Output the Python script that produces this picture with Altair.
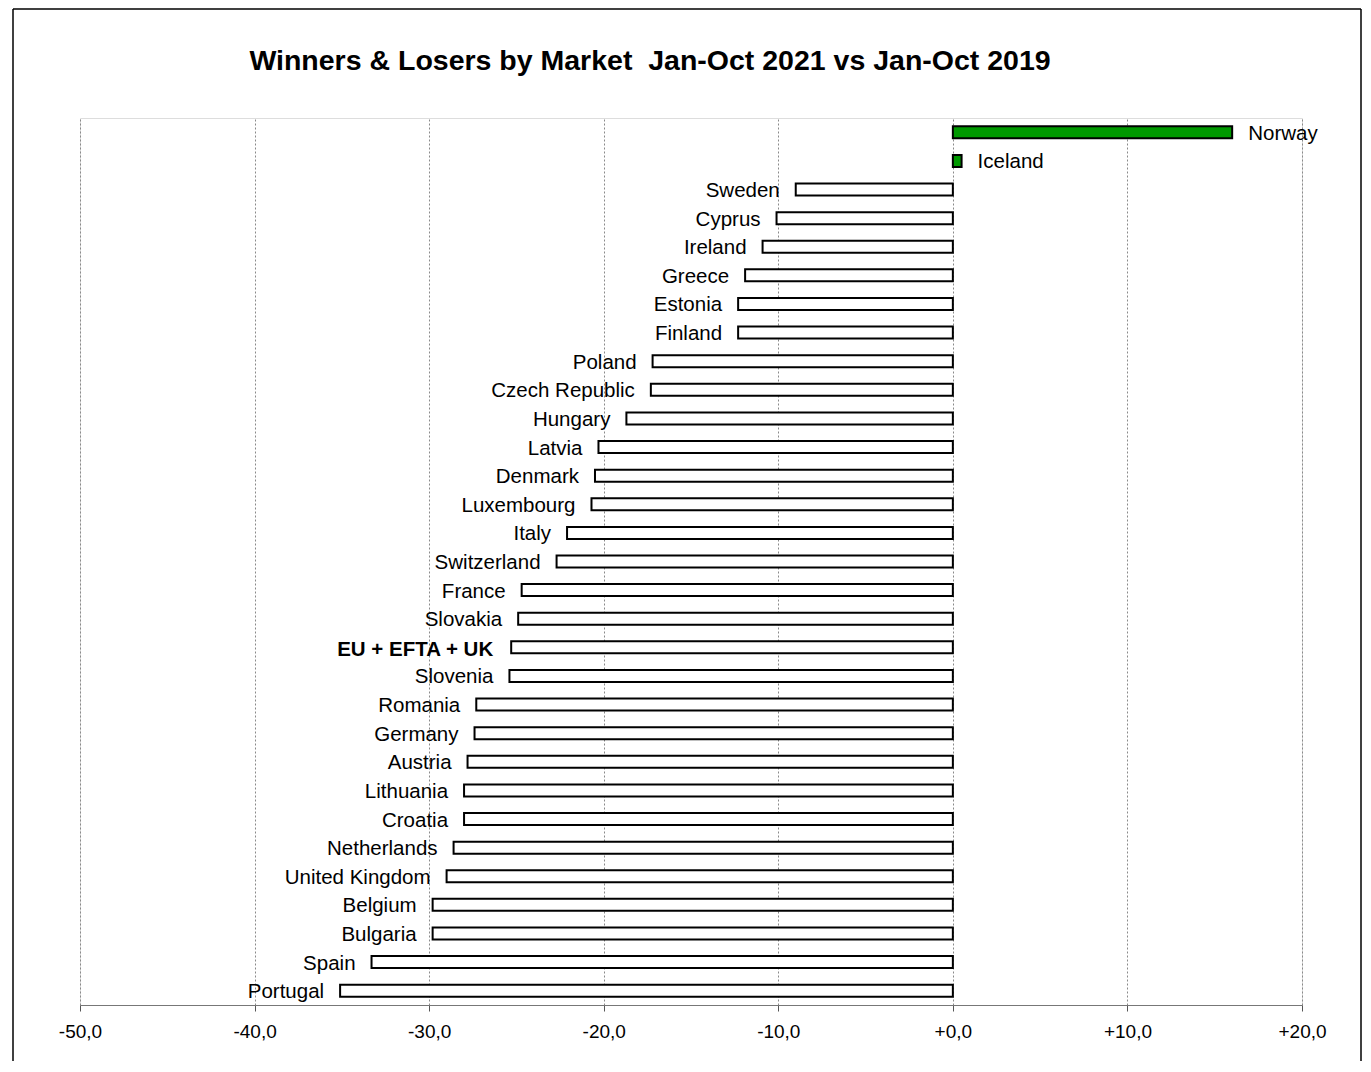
import altair as alt
import pandas as pd

markets = ["Norway", "Iceland", "Sweden", "Cyprus", "Ireland", "Greece", "Estonia", "Finland",
           "Poland", "Czech Republic", "Hungary", "Latvia", "Denmark", "Luxembourg", "Italy",
           "Switzerland", "France", "Slovakia", "EU + EFTA + UK", "Slovenia", "Romania", "Germany",
           "Austria", "Lithuania", "Croatia", "Netherlands", "United Kingdom", "Belgium",
           "Bulgaria", "Spain", "Portugal"]
changes = [16.0, 0.5, -9.0, -10.1, -10.9, -11.9, -12.3, -12.3,
           -17.2, -17.3, -18.7, -20.3, -20.5, -20.7, -22.1,
           -22.7, -24.7, -24.9, -25.3, -25.4, -27.3, -27.4,
           -27.8, -28.0, -28.0, -28.6, -29.0, -29.8,
           -29.8, -33.3, -35.1]
total_label = "EU + EFTA + UK"
title_text = "Winners & Losers by Market \u00a0Jan-Oct 2021 vs Jan-Oct 2019"

df = pd.DataFrame({"market": markets, "change": changes})
df["side"] = ["pos" if v > 0 else "neg" for v in changes]
df["is_total"] = [m == total_label for m in markets]

W, H = 1222, 887
FONT = "Liberation Sans"

x_enc = alt.X("change:Q", scale=alt.Scale(domain=[-50, 20], nice=False, zero=False),
              axis=alt.Axis(values=[-50, -40, -30, -20, -10, 0, 10, 20],
                            labelExpr="(datum.value >= 0 ? '+' : '-') + replace(format(abs(datum.value), '.1f'), '.', ',')",
                            title=None, grid=True, gridColor="#8a8a8a", gridDash=[2, 2], gridWidth=1,
                            domainColor="#777777", domainWidth=1, tickColor="#555555", tickSize=6,
                            labelFlush=False, labelOverlap=False,
                            labelFont=FONT, labelFontSize=19, labelColor="#000000", labelPadding=11))
y_enc = alt.Y("market:N", sort=markets, axis=None,
              scale=alt.Scale(paddingInner=0, paddingOuter=0))

base = alt.Chart(df)

bars = base.mark_bar(height=12, stroke="#000000", strokeWidth=2).encode(
    x=x_enc, x2=alt.datum(0), y=y_enc,
    color=alt.Color("side:N", scale=alt.Scale(domain=["pos", "neg"], range=["#009900", "#ffffff"]), legend=None),
)

lab_pos = base.transform_filter("datum.change > 0").mark_text(
    align="left", baseline="middle", dx=16, dy=1.5, font=FONT, fontSize=20.5, color="#000000"
).encode(x="change:Q", y=alt.Y("market:N", sort=markets), text="market:N")

lab_neg = base.transform_filter("datum.change <= 0 && !datum.is_total").mark_text(
    align="right", baseline="middle", dx=-16, dy=1.5, font=FONT, fontSize=20.5, color="#000000"
).encode(x="change:Q", y=alt.Y("market:N", sort=markets), text="market:N")

lab_tot = base.transform_filter("datum.is_total").mark_text(
    align="right", baseline="middle", dx=-18, dy=3, font=FONT, fontSize=20.5, fontWeight="bold", color="#000000"
).encode(x="change:Q", y=alt.Y("market:N", sort=markets), text="market:N")

one = pd.DataFrame({"k": [0]})
frame_left = alt.Chart(one).mark_rule(stroke="#000000", strokeWidth=1.5).encode(
    x=alt.value(-67), y=alt.value(-109), y2=alt.value(950))
frame_right = alt.Chart(one).mark_rule(stroke="#000000", strokeWidth=1.5).encode(
    x=alt.value(1281), y=alt.value(-109), y2=alt.value(950))
frame_top = alt.Chart(one).mark_rule(stroke="#000000", strokeWidth=1.5).encode(
    x=alt.value(-67), x2=alt.value(1281), y=alt.value(-109))

title = alt.Chart(pd.DataFrame({"t": [title_text]})).mark_text(
    align="center", baseline="alphabetic", font=FONT, fontSize=28.5, fontWeight="bold", color="#000000"
).encode(x=alt.value(570), y=alt.value(-48), text="t:N")

chart = alt.layer(frame_left, frame_right, frame_top, bars, lab_pos, lab_neg, lab_tot, title).properties(
    width=W, height=H,
    autosize=alt.AutoSizeParams(type="none"),
    padding={"left": 72, "top": 110, "right": 60, "bottom": 56},
).configure_view(stroke=None).configure(background="#ffffff")

chart.save("out.html", embed_options={"renderer": "svg", "actions": False})
